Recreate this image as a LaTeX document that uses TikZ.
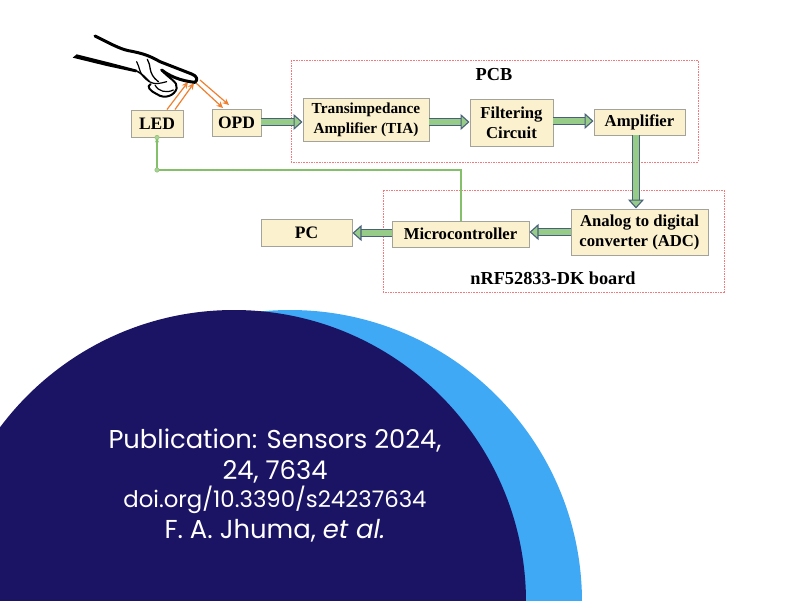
\documentclass[tikz,border=0pt]{standalone}
\usepackage{xcolor}
\usepackage{fontspec}
\setmainfont{Liberation Serif}
\newfontfamily\capfont{Poppins}
\usetikzlibrary{arrows.meta}
\definecolor{boxfill}{HTML}{FBF1CF}
\definecolor{boxline}{HTML}{A3A39B}
\definecolor{flowfill}{HTML}{97CC88}
\definecolor{flowline}{HTML}{4A5F7C}
\definecolor{wireline}{HTML}{84BF6A}
\definecolor{rayline}{HTML}{F07F2E}
\definecolor{frameline}{HTML}{F4787C}
\definecolor{darkdisc}{HTML}{1B1464}
\definecolor{lightdisc}{HTML}{3FA9F5}
\tikzset{blockbox/.style = {draw=boxline,line width=1pt,fill=boxfill,inner sep=0pt,align=center,font=\fontsize{16.7}{20}\selectfont\bfseries}}
\tikzset{boardframe/.style = {draw=frameline,line width=1pt,dash pattern=on 1.6pt off 1pt}}
\tikzset{flowarrow/.style = {draw=flowline,line width=1.1pt,double=flowfill,double distance=5.5pt,-{Triangle[length=9pt,width=16pt,fill=flowfill]}}}
\tikzset{rayarrow/.style = {draw=rayline,line width=1.2pt,-{Stealth[length=6.5pt,width=6pt]}}}
\tikzset{wirearrow/.style = {draw=wireline,line width=1.2pt}}
\tikzset{wiredot/.style = {circle,fill=wireline!70,draw=wireline,inner sep=0pt,minimum size=4.5pt}}
\tikzset{boardlabel/.style = {font=\fontsize{18.3}{22}\selectfont\bfseries,inner sep=0pt}}
\tikzset{citeline/.style = {text=white,inner sep=0pt,font=\capfont\fontsize{#1}{#1}\selectfont}}
\NewDocumentCommand{\fblock}{m m m m m m}{%
\node[blockbox,minimum width=#4pt-#3pt,minimum height=#6pt-#5pt] (#1) at ({(#3+#4)/2},{(#5+#6)/2}) {#2};
}

\begin{document}
\begin{tikzpicture}[x=1pt,y=-1pt]
\useasboundingbox (0,0) rectangle (800,600);

\begin{scope}
\clip (0,0) rectangle (800,600);
\fill[lightdisc] (290,602) circle[radius=292];
\fill[darkdisc] (234,602) circle[radius=292];
\end{scope}

\node[citeline=25.8] (citeA) at (275,441) {Publication: Sensors 2024,};
\node[citeline=25.8] (citeB) at (275,472) {24, 7634};
\node[citeline=22.8] (citeC) at (275,500) {doi.org/10.3390/s24237634};
\node[citeline=25.9] (citeD) at (275,531) {F. A. Jhuma, \textit{et al.}};

\draw[boardframe] (291,60) rectangle (698,162);
\draw[boardframe] (383,190) rectangle (724,292);
\node[boardlabel] (pcb) at (494,75) {PCB};
\node[boardlabel] (nrf) at (553,278) {nRF52833-DK board};

\fblock{led}{\fontsize{17.5}{20}\selectfont LED}{131}{183}{110}{137}
\fblock{opd}{\fontsize{17.5}{20}\selectfont OPD}{212}{261}{109}{136}
\fblock{tia}{\fontsize{15.3}{19}\selectfont Transimpedance\\\fontsize{15.3}{19}\selectfont Amplifier (TIA)}{303}{429}{98}{141}
\fblock{filt}{Filtering\\Circuit}{470}{553}{99}{146}
\fblock{amp}{Amplifier}{594}{685}{109}{135}
\fblock{adc}{Analog to digital\\converter (ADC)}{571}{708}{209}{255}
\fblock{mcu}{Microcontroller}{392}{529}{221}{247}
\fblock{pc}{\fontsize{17.5}{20}\selectfont PC}{261}{352}{219}{246}

\coordinate (opdout) at (261,122);
\coordinate (tiaout) at (429,122);
\coordinate (filtout) at (553,121);
\coordinate (ampout) at (636,135);
\coordinate (adcout) at (571,232);
\coordinate (mcuout) at (392,233);
\draw[flowarrow] (opdout) -- (opdout -| tia.west);
\draw[flowarrow] (tiaout) -- (tiaout -| filt.west);
\draw[flowarrow] (filtout) -- (filtout -| amp.west);
\draw[flowarrow] (ampout) -- (ampout |- adc.north);
\draw[flowarrow] (adcout) -- (adcout -| mcu.east);
\draw[flowarrow] (mcuout) -- (mcuout -| pc.east);

\coordinate (wirestart) at (461,221);
\coordinate (wirebend) at (461,170);
\coordinate (wirecorner) at (157,170);
\draw[wirearrow] (wirestart) -- (wirebend) -- (wirecorner);
\draw[wirearrow,-{Stealth[length=5pt,width=4pt]}] (wirecorner) -- (led.south);
\node[wiredot] (dotcorner) at (wirecorner) {};
\node[wiredot] (dotled) at (led.south) {};

\coordinate (rayA) at (167,109.5);
\coordinate (rayB) at (175,109.5);
\coordinate (fingerA) at (188,82);
\coordinate (fingerB) at (194,83);
\coordinate (fingerC) at (196,83);
\coordinate (fingerD) at (200,80);
\coordinate (rayC) at (223,108);
\coordinate (rayD) at (229,105);
\draw[rayarrow] (rayA) -- (fingerA);
\draw[rayarrow] (rayB) -- (fingerB);
\draw[rayarrow] (fingerC) -- (rayC);
\draw[rayarrow] (fingerD) -- (rayD);

% hand
\begin{scope}[shift={(60,20)},x=0.3333pt,y=-0.3333pt,line cap=round,line join=round]
\draw[line width=3pt] (105,48) .. controls (150,70) and (175,85) .. (205,92) .. controls (250,100) and (270,108) .. (300,125) -- (395,162) .. controls (412,168) and (414,180) .. (405,187) .. controls (385,185) and (340,178) .. (305,150);
\fill (38,113) -- (50,103) -- (150,128) -- (230,149) -- (228,157) -- (140,138) -- cycle;
\draw[line width=1.6pt] (228,152) .. controls (245,160) and (255,172) .. (268,185);
\draw[line width=1.2pt] (230,125) .. controls (240,140) and (235,165) .. (268,185) .. controls (285,195) and (300,190) .. (320,185);
\draw[line width=1.3pt] (262,118) .. controls (275,135) and (262,160) .. (295,185);
\draw[line width=2pt] (305,150) .. controls (325,175) and (355,185) .. (350,205) .. controls (345,225) and (315,240) .. (290,222) .. controls (270,212) and (258,200) .. (272,192);
\draw[line width=1.2pt] (285,195) .. controls (295,215) and (320,220) .. (340,210);
\end{scope}
\end{tikzpicture}
\end{document}
